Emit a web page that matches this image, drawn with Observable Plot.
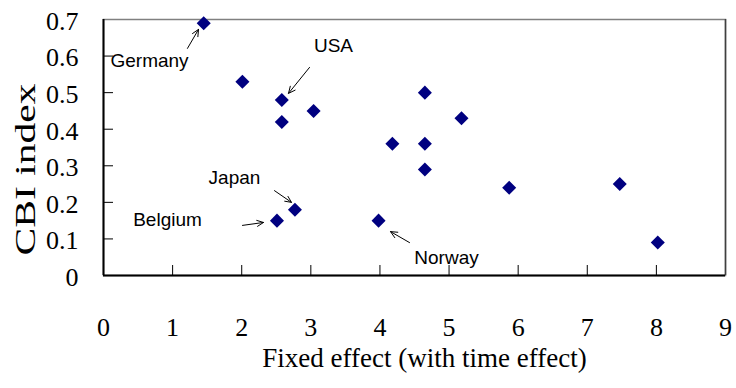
<!DOCTYPE html>
<html>
<head>
<meta charset="utf-8">
<script src="https://cdn.jsdelivr.net/npm/d3@7"></script>
<script src="https://cdn.jsdelivr.net/npm/@observablehq/plot@0.6"></script>
<style>
  html, body { margin: 0; padding: 0; background: #fff; }
</style>
</head>
<body>
<div id="chart"></div>
<script>
// Data points
const fixedEffect = [1.45, 2.01, 2.58, 2.58, 3.04, 4.65, 5.18, 4.18, 4.65, 4.65, 5.87, 7.47, 2.77, 2.51, 3.98, 8.02];
const cbiIndex    = [0.69, 0.53, 0.48, 0.42, 0.45, 0.50, 0.43, 0.36, 0.36, 0.29, 0.24, 0.25, 0.18, 0.15, 0.15, 0.09];

// Tick values
const xTicks = [0, 1, 2, 3, 4, 5, 6, 7, 8, 9];
const yTicks = [0, 0.1, 0.2, 0.3, 0.4, 0.5, 0.6, 0.7];
const yTickLabels = ["0", "0.1", "0.2", "0.3", "0.4", "0.5", "0.6", "0.7"];

// Annotations (label position and arrow tail -> tip, in data units)
const labelNames = ["Germany", "USA", "Japan", "Belgium", "Norway"];
const labelX = [0.666, 3.328, 1.895, 0.926, 4.963];
const labelY = [0.588, 0.629, 0.268, 0.153, 0.049];
const arrowX1 = [1.215, 2.981, 2.474, 2.011, 4.428];
const arrowY1 = [0.621, 0.569, 0.232, 0.137, 0.090];
const arrowX2 = [1.375, 2.677, 2.720, 2.315, 4.153];
const arrowY2 = [0.673, 0.498, 0.200, 0.145, 0.120];

const points = fixedEffect.map((x, i) => ({x, y: cbiIndex[i]}));
const labels = labelNames.map((name, i) => ({name, x: labelX[i], y: labelY[i]}));
const arrows = labelNames.map((name, i) => ({x1: arrowX1[i], y1: arrowY1[i], x2: arrowX2[i], y2: arrowY2[i]}));

const diamond = {
  draw(ctx, size) {
    const h = Math.sqrt(size / 2);
    ctx.moveTo(0, -h);
    ctx.lineTo(h, 0);
    ctx.lineTo(0, h);
    ctx.lineTo(-h, 0);
    ctx.closePath();
  }
};

const chart = Plot.plot({
  width: 736,
  height: 388,
  marginLeft: 103,
  marginRight: 11,
  marginTop: 19,
  marginBottom: 113,
  style: {fontFamily: "'Liberation Serif', 'Times New Roman', serif", background: "#fff", overflow: "visible"},
  x: {domain: [0, 9]},
  y: {domain: [0, 0.7]},
  marks: [
    Plot.frame({stroke: "#808080", strokeWidth: 1.5}),
    Plot.ruleX([9], {stroke: "#404040", strokeWidth: 1.5}),
    Plot.tickX(xTicks.slice(1, -1), {x: d => d, stroke: "#000", strokeWidth: 1, insetTop: 246}),
    Plot.tickY(yTicks.slice(1, -1), {y: d => d, stroke: "#000", strokeWidth: 1, insetRight: 612}),
    Plot.ruleX([0], {stroke: "#000", strokeWidth: 2}),
    Plot.ruleY([0], {stroke: "#000", strokeWidth: 2}),
    Plot.axisX({ticks: xTicks, tickSize: 0, tickPadding: 42, fontSize: 26, label: null, fill: "#000"}),
    Plot.axisY({ticks: yTicks, tickSize: 0, tickPadding: 25, fontSize: 26, label: null, dy: 2, fill: "#000",
      tickFormat: d => yTickLabels[yTicks.indexOf(d)]}),
    Plot.text(["Fixed effect (with time effect)"], {frameAnchor: "bottom", lineAnchor: "middle", textAnchor: "middle", dy: 83, dx: 10, fontSize: 27, fill: "#000"}),
    Plot.text(["CBI index"], {frameAnchor: "left", lineAnchor: "middle", textAnchor: "middle", rotate: -90, dx: -78, dy: 22, fontSize: 30, fill: "#000"}),
    Plot.arrow(arrows, {x1: "x1", y1: "y1", x2: "x2", y2: "y2", stroke: "#000", strokeWidth: 1, headLength: 11, headAngle: 50}),
    Plot.text(labels, {x: "x", y: "y", text: "name", fontSize: 19, fontFamily: "'Liberation Sans', Arial, sans-serif", fill: "#000"}),
    Plot.dot(points, {x: "x", y: "y", symbol: diamond, r: 5.6, fill: "#000080", stroke: "none"})
  ]
});

document.getElementById("chart").appendChild(chart);

// stretch the rotated y-axis title like in the reference
d3.select(chart).selectAll("text").filter(function() { return this.textContent === "CBI index"; })
  .attr("textLength", 172).attr("lengthAdjust", "spacingAndGlyphs");
</script>
</body>
</html>
